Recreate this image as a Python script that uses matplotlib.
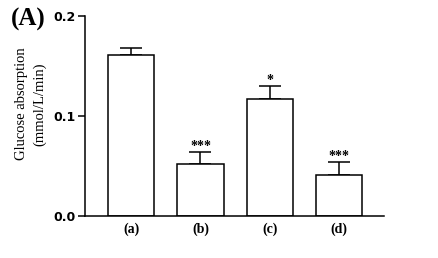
import numpy as np
import matplotlib
matplotlib.use('Agg')
import matplotlib.pyplot as plt

groups = ['(a)', '(b)', '(c)', '(d)']
means = [0.161, 0.0517, 0.117, 0.041]
errs = [0.0065, 0.0123, 0.013, 0.013]
stars = ['', '***', '*', '***']

fig = plt.figure(figsize=(4.39, 2.58), dpi=100)
ax = fig.add_axes([0.1936, 0.1628, 0.681, 0.7752])

x = np.arange(len(groups))
ax.bar(x, means, width=0.667, color='white', edgecolor='black', linewidth=1.1, zorder=2)
ax.errorbar(x, means, yerr=[np.zeros(len(errs)), errs], fmt='none', ecolor='black',
            elinewidth=1.1, capsize=8, capthick=1.1, zorder=1)
for xi, m, e, s in zip(x, means, errs, stars):
    if s:
        ax.text(xi, m + e - 0.001, s, ha='center', va='bottom', fontsize=10,
                fontweight='bold', family='Liberation Serif', color='black')

ax.set_xlim(-0.667, 3.65)
ax.set_ylim(0, 0.2)
ax.set_yticks([0.0, 0.1, 0.2])
ax.set_yticklabels(['0.0', '0.1', '0.2'], fontsize=9, fontweight='bold', family='DejaVu Sans')
ax.set_xticks(x)
ax.set_xticklabels(groups, fontsize=10, fontweight='bold', family='Liberation Serif')
ax.tick_params(axis='x', length=0, pad=5)
ax.tick_params(axis='y', length=5, width=1.1, direction='out', pad=2)
for sp in ['top', 'right']:
    ax.spines[sp].set_visible(False)
for sp in ['left', 'bottom']:
    ax.spines[sp].set_linewidth(1.1)

ax.set_ylabel('Glucose absorption\n(mmol/L/min)', fontsize=10.5, family='Liberation Serif',
              linespacing=1.45)
ax.yaxis.set_label_coords(-0.13, 0.56)
fig.text(0.025, 0.925, '(A)', fontsize=18, fontweight='bold', family='Liberation Serif',
         ha='left', va='center')

plt.savefig('out.png', dpi=100)
